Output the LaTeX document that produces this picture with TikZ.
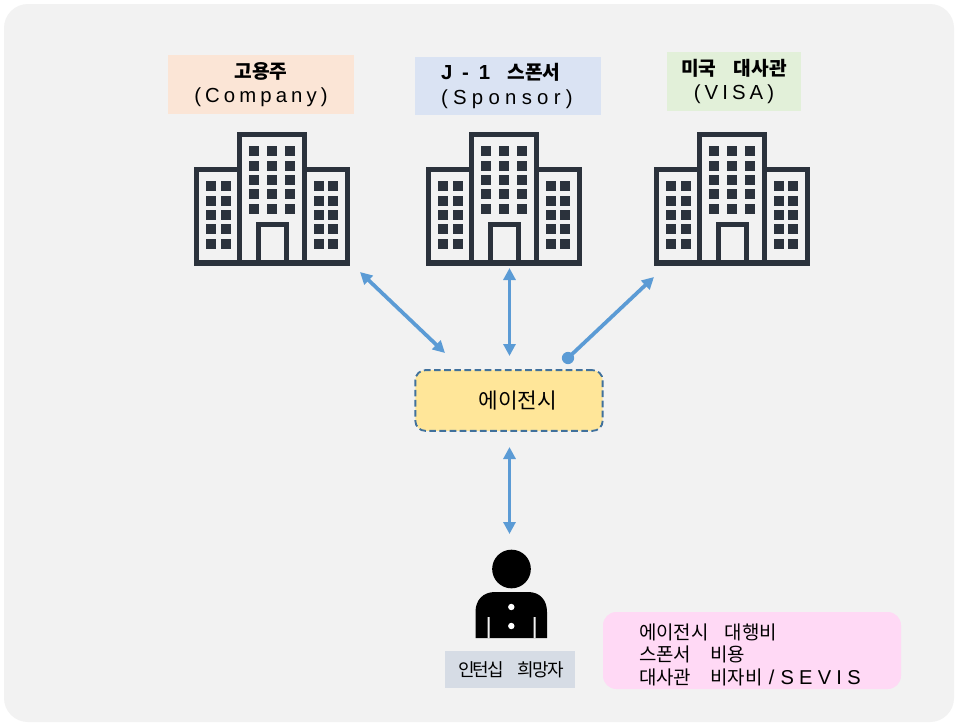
\documentclass[tikz,border=0pt]{standalone}
\usepackage{fontspec}
\usetikzlibrary{arrows.meta}
\setmainfont{Noto Sans CJK KR}
\newfontfamily\lsp[LetterSpace=20,Scale=1.06]{Liberation Sans}
\newfontfamily\lspm[LetterSpace=26,Scale=1.06]{Liberation Sans}
\newfontfamily\lspb[LetterSpace=30,Scale=1.06]{Liberation Sans}
\newfontfamily\krtight[LetterSpace=-10]{Noto Sans CJK KR}
\definecolor{panel}{HTML}{F2F2F2}
\definecolor{bld}{HTML}{2B323C}
\definecolor{arrowblue}{HTML}{5B9BD5}
\definecolor{dashblue}{HTML}{41719C}
\definecolor{peach}{RGB}{251,229,214}
\definecolor{lightblue}{RGB}{218,227,243}
\definecolor{lightgreen}{RGB}{226,240,217}
\definecolor{agencyyellow}{RGB}{255,230,153}
\definecolor{slate}{RGB}{214,220,229}
\definecolor{pinkbox}{RGB}{255,217,245}
\tikzset{
  x=0.75pt,y=-0.75pt,
  label box/.style={inner sep=0pt,outer sep=0pt,align=center,font=\fontsize{14.4}{17.2}\selectfont},
  link/.style={draw=arrowblue,line width=2.8pt,{Triangle[length=9pt,width=9pt]}-{Triangle[length=9pt,width=9pt]}},
  wall/.style={draw=bld,line width=3.9pt},
  window/.style={fill=bld},
  building/.pic={
    \draw[wall] (45.5,37.5) -- (2.5,37.5) -- (2.5,131) -- (153.5,131) -- (153.5,37.5) -- (110.5,37.5);
    \draw[wall] (45.5,131) -- (45.5,2.5) -- (110.5,2.5) -- (110.5,131);
    \draw[wall] (64.5,131) -- (64.5,92.5) -- (92.5,92.5) -- (92.5,131);
    \foreach \cx in {55,73,91}\foreach \cy in {14,29,43,57,72}
      \fill[window] (\cx,\cy) rectangle ++(10,10);
    \foreach \cx in {12,27,120,134}\foreach \cy in {49,64,78,92,107}
      \fill[window] (\cx,\cy) rectangle ++(10,10);
  }
}
\begin{document}
\begin{tikzpicture}
\useasboundingbox (0,0) rectangle (960,725);
\fill[white] (0,0) rectangle (960,725);
\fill[panel,rounded corners=18pt] (4,4) rectangle (954,722);

\node[label box,fill=peach,minimum width=139.5pt,minimum height=44.25pt] (company) at (261,84.5)
  {\raisebox{0.3pt}{\bfseries 고용주}\\\raisebox{-0.7pt}{\lsp (Company)}};
\node[label box,fill=lightblue,minimum width=139.5pt,minimum height=43.5pt,text width=139.5pt,align=left] (sponsor) at (508,86)
  {\hspace*{19.5pt}\raisebox{0.3pt}{{\lspb\bfseries J\hspace{2.6pt} - \hspace{2.6pt}1}\hspace{0.9em}\bfseries 스폰서}\\\hspace*{19.5pt}\raisebox{-0.7pt}{\lspm (Sponsor)}};
\node[label box,fill=lightgreen,minimum width=100.5pt,minimum height=44.25pt] (visa) at (734,81.5)
  {\raisebox{0.3pt}{\bfseries 미국\hspace{0.9em}대사관}\\\raisebox{-0.7pt}{\lsp (VISA)}};

\pic at (194,132) {building};
\pic at (426,132) {building};
\pic at (654,132) {building};

\node[draw=dashblue,fill=agencyyellow,line width=1.4pt,dash pattern=on 5pt off 2.6pt,rounded corners=7.5pt,minimum width=140.5pt,minimum height=45.5pt,inner sep=0pt,font=\fontsize{16}{18}\selectfont] (agency) at (509,400.5) {\hspace{13pt}에이전시};

\coordinate (a1) at (360,272); \coordinate (a2) at (445,353);
\coordinate (b1) at (509.5,268); \coordinate (b2) at (509.5,356);
\coordinate (c1) at (568,358); \coordinate (c2) at (654,277);
\coordinate (d1) at (509.5,447); \coordinate (d2) at (509.5,534);
\draw[link] (a1) -- (a2);
\draw[link] (b1) -- (b2);
\draw[draw=arrowblue,line width=2.8pt,-{Triangle[length=9pt,width=9pt]}] (c1) -- (c2);
\fill[arrowblue] (c1) circle (4.6pt);
\draw[link] (d1) -- (d2);

% person
\fill[black] (511.5,569) circle (14.5pt);
\fill[black] (475.5,638) -- (475.5,612) .. controls (475.5,600) and (483,592) .. (495,592) -- (528,592) .. controls (540,592) and (547,600) .. (547,612) -- (547,638) -- cycle;
\fill[white] (511.3,607) circle (2.4pt) (511.3,626) circle (2.4pt);
\fill[panel] (487.5,617) rectangle (489.5,638) (533.5,617) rectangle (535.5,638);
\node[label box,fill=slate,minimum width=97.5pt,minimum height=27.75pt,font=\fontsize{13.5}{16}\selectfont] (seeker) at (510,669.5) {\hspace{1.5pt}\krtight 인턴십\hspace{0.75em}희망자};

\node[fill=pinkbox,rounded corners=10pt,minimum width=223.5pt,minimum height=57.75pt,inner sep=0pt,align=left,font=\fontsize{14.2}{16.8}\selectfont,text width=223.5pt] (costs) at (752,650.5)
  {\rule{0pt}{18pt}\hspace*{27pt}에이전시\hspace{0.85em}대행비\\\hspace*{27pt}스폰서\hspace{1em}비용\\\hspace*{27pt}대사관\hspace{1em}비자비 {\lspm / SEVIS}};
\end{tikzpicture}
\end{document}
